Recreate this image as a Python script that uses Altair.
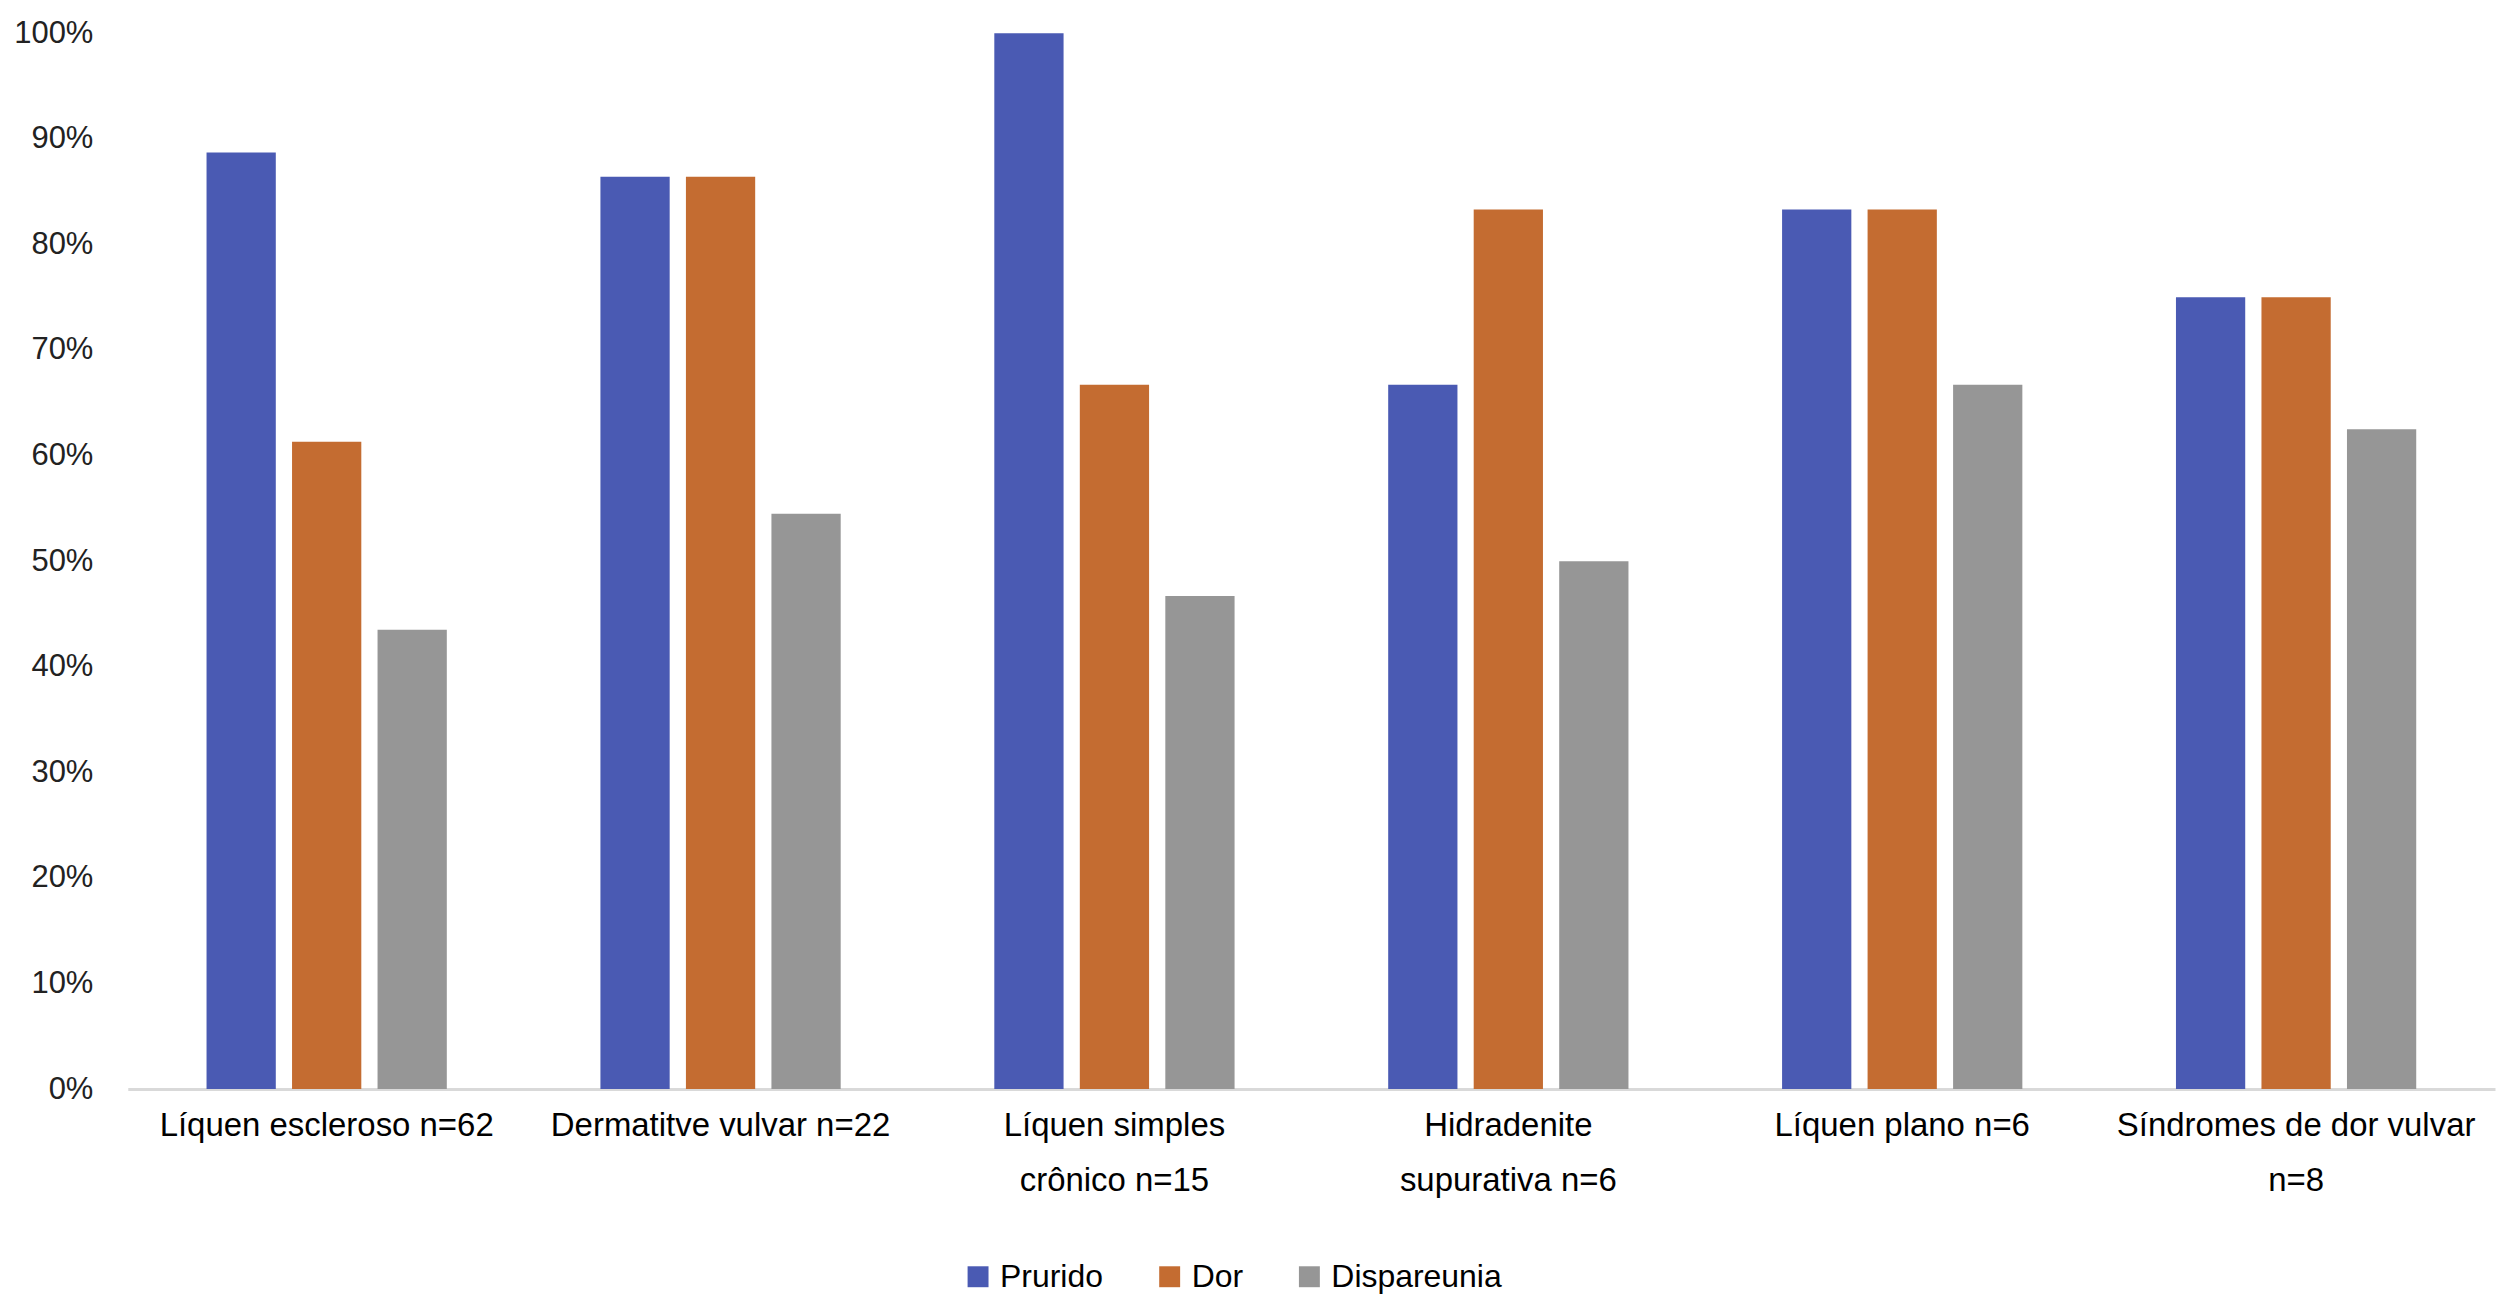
import altair as alt
import pandas as pd


CATEGORIES = [
    "Líquen escleroso n=62",
    "Dermatitve vulvar n=22",
    "Líquen simples|crônico n=15",
    "Hidradenite|supurativa n=6",
    "Líquen plano n=6",
    "Síndromes de dor vulvar|n=8",
]
SERIES = ["Prurido", "Dor", "Dispareunia"]
PRURIDO = [88.7, 86.4, 100.0, 66.7, 83.3, 75.0]
DOR = [61.3, 86.4, 66.7, 83.3, 83.3, 75.0]
DISPAREUNIA = [43.5, 54.5, 46.7, 50.0, 66.7, 62.5]
Y_TICKS = [0, 10, 20, 30, 40, 50, 60, 70, 80, 90, 100]

COLORS = {
    "Prurido": "#4a5ab3",
    "Dor": "#c46c31",
    "Dispareunia": "#969696",
}

rows = []
for name, values in zip(SERIES, [PRURIDO, DOR, DISPAREUNIA]):
    for cat, v in zip(CATEGORIES, values):
        rows.append({"categoria": cat, "sintoma": name, "valor": v})
df = pd.DataFrame(rows)

FONT = "Liberation Sans"

chart = alt.Chart(df).mark_bar().encode(
    x=alt.X(
        "categoria:N", sort=CATEGORIES, title=None,
        scale=alt.Scale(paddingInner=0.39, paddingOuter=0.2),
        axis=alt.Axis(
            labelAngle=0, labelExpr="split(datum.label, '|')",
            labelFont=FONT, labelFontSize=33, labelColor="#000000",
            labelLineHeight=56, labelBaseline="top", labelPadding=20,
            ticks=False, domainColor="#d9d9d9", domainWidth=3,
            labelLimit=600,
        ),
    ),
    xOffset=alt.XOffset(
        "sintoma:N", sort=SERIES,
        scale=alt.Scale(paddingInner=0.19, paddingOuter=0),
    ),
    y=alt.Y(
        "valor:Q", title=None,
        scale=alt.Scale(domain=[0, 100], nice=False),
        axis=alt.Axis(
            values=Y_TICKS, labelExpr="datum.value + '%'",
            labelFont=FONT, labelFontSize=31, labelColor="#222222",
            labelPadding=35, ticks=False, domain=False, grid=False,
        ),
    ),
    color=alt.Color(
        "sintoma:N", sort=SERIES,
        scale=alt.Scale(domain=SERIES, range=[COLORS[s] for s in SERIES]),
        legend=alt.Legend(
            title=None, orient="none", direction="horizontal",
            legendX=836, legendY=1230,
            symbolType="square", symbolSize=440, symbolStrokeWidth=0,
            labelFont=FONT, labelFontSize=32, labelColor="#000000",
            labelOffset=6, columnPadding=50, labelLimit=400,
        ),
    ),
).properties(
    width=2372,
    height=1058,
    autosize=alt.AutoSizeParams(type="none"),
    padding={"left": 120, "top": 24, "right": 5, "bottom": 205},
).configure(
    background="#ffffff",
).configure_view(strokeWidth=0, stroke="transparent")

chart.save("out.html", embed_options={"renderer": "svg", "actions": False})
